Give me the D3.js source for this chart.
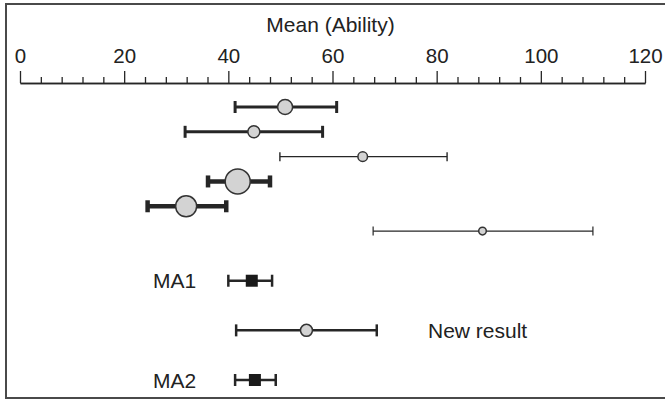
<!DOCTYPE html>
<html>
<head>
<meta charset="utf-8">
<script src="https://cdn.jsdelivr.net/npm/d3@7"></script>
<style>
  html, body { margin: 0; padding: 0; background: #fff; }
  svg { display: block; font-family: "Liberation Sans", Arial, Helvetica, sans-serif; }
</style>
</head>
<body>
<svg id="chart" width="665" height="401"></svg>
<script>
// Study estimates: mean ability with interval bounds
const rowLabels = ["", "", "", "", "", "", "MA1", "", "MA2"];
const sideLabels = ["", "", "", "", "", "", "", "New result", ""];
const rowSlots  = [0, 1, 2, 3, 4, 5, 7, 9, 11];
const means     = [50.9, 44.9, 65.8, 41.8, 31.9, 88.8, 44.5, 55.0, 45.1];
const lows      = [41.3, 31.7, 49.9, 36.1, 24.5, 67.8, 40.0, 41.5, 41.3];
const highs     = [60.8, 58.1, 82.0, 48.0, 39.6, 110.0, 48.4, 68.5, 49.1];
const kinds     = ["study", "study", "study", "study", "study", "study", "pooled", "study", "pooled"];
const weights   = [7.5, 6, 4.8, 12.5, 10.5, 3.8, 6, 6, 6];   // marker radius
const strokes   = [3, 3, 1.4, 4.5, 4.5, 1.2, 2.5, 2.5, 2.5];  // interval line width
const majorTicks = [0, 20, 40, 60, 80, 100, 120];
const axisTitle = "Mean (Ability)";

const svg = d3.select("#chart");
const ink = "#262626";

const x = d3.scaleLinear().domain([0, 120]).range([20, 645]);
const y = d3.scaleLinear().domain([0, 11]).range([107, 380]);

// frame
svg.append("rect")
  .attr("x", 6).attr("y", 4)
  .attr("width", 670).attr("height", 394)
  .attr("fill", "none").attr("stroke", "#4a4a4a").attr("stroke-width", 2);

// axis on top
const axisY = 83;
const minor = d3.range(0, 121, 4).filter(v => v % 20 !== 0);
svg.append("g")
  .attr("transform", `translate(0,${axisY})`)
  .call(d3.axisTop(x).tickValues(minor).tickSize(6).tickSizeOuter(0).tickFormat(""))
  .call(g => g.selectAll("line,path").attr("stroke", ink).attr("stroke-width", 1.3));
const ax = svg.append("g")
  .attr("transform", `translate(0,${axisY})`)
  .call(d3.axisTop(x).tickValues(majorTicks).tickSize(12).tickSizeOuter(0).tickPadding(8));
ax.selectAll("line,path").attr("stroke", ink).attr("stroke-width", 1.3);
ax.selectAll("text").attr("font-size", 20.5).attr("fill", "#222")
  .attr("font-family", "'Liberation Sans', Arial, sans-serif");

svg.append("text")
  .attr("x", (x(0) + x(120)) / 2 - 2).attr("y", 32)
  .attr("text-anchor", "middle").attr("font-size", 21).attr("fill", "#222")
  .text(axisTitle);

// rows
const rows = means.map((m, i) => ({
  m, lo: lows[i], hi: highs[i], slot: rowSlots[i], kind: kinds[i],
  r: weights[i], sw: strokes[i], label: rowLabels[i], side: sideLabels[i]
}));

const g = svg.append("g");
rows.forEach(d => {
  const cy = y(d.slot);
  const capH = d.sw < 2 ? 9 : 12;
  g.append("line")
    .attr("x1", x(d.lo)).attr("x2", x(d.hi)).attr("y1", cy).attr("y2", cy)
    .attr("stroke", ink).attr("stroke-width", d.sw);
  [d.lo, d.hi].forEach(v => {
    g.append("line")
      .attr("x1", x(v)).attr("x2", x(v))
      .attr("y1", cy - capH / 2).attr("y2", cy + capH / 2)
      .attr("stroke", ink).attr("stroke-width", d.sw);
  });
  if (d.kind === "pooled") {
    g.append("rect")
      .attr("x", x(d.m) - d.r).attr("y", cy - d.r)
      .attr("width", d.r * 2).attr("height", d.r * 2)
      .attr("fill", "#1a1a1a");
  } else {
    g.append("circle")
      .attr("cx", x(d.m)).attr("cy", cy).attr("r", d.r)
      .attr("fill", "#d3d3d3").attr("stroke", "#333").attr("stroke-width", 1.5);
  }
  if (d.label) {
    g.append("text")
      .attr("x", 153).attr("y", cy + 7.5)
      .attr("font-size", 21).attr("fill", "#222")
      .text(d.label);
  }
  if (d.side) {
    g.append("text")
      .attr("x", 428).attr("y", cy + 7.5)
      .attr("font-size", 21).attr("fill", "#222")
      .text(d.side);
  }
});
</script>
</body>
</html>
